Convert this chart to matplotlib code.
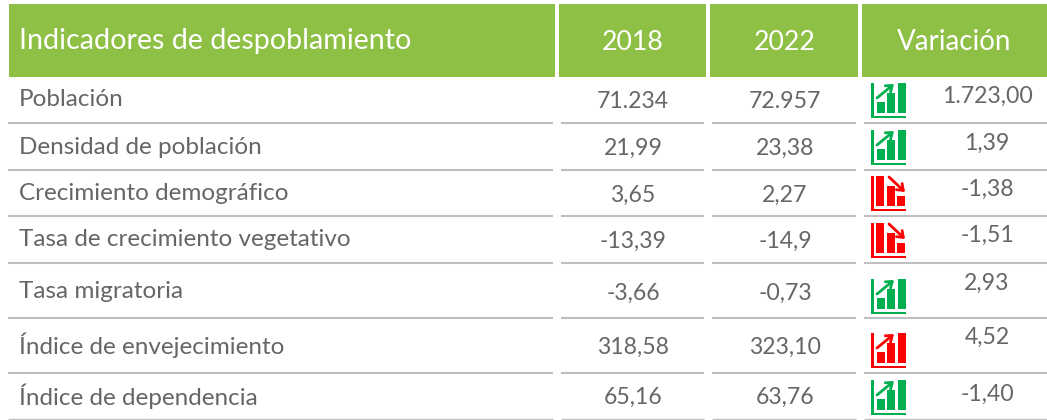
import matplotlib
matplotlib.use("Agg")
import matplotlib.pyplot as plt
from matplotlib.patches import Rectangle, FancyArrowPatch

title = "Indicadores de despoblamiento"
years = ["2018", "2022"]
variation_title = "Variación"
indicators = ["Población", "Densidad de población", "Crecimiento demográfico",
              "Tasa de crecimiento vegetativo", "Tasa migratoria",
              "Índice de envejecimiento", "Índice de dependencia"]
values_2018 = ["71.234", "21,99", "3,65", "-13,39", "-3,66", "318,58", "65,16"]
values_2022 = ["72.957", "23,38", "2,27", "-14,9", "-0,73", "323,10", "63,76"]
variation = ["1.723,00", "1,39", "-1,38", "-1,51", "2,93", "4,52", "-1,40"]
icon_dir = ["up", "up", "down", "down", "up", "up", "up"]
icon_col = ["g", "g", "r", "r", "g", "r", "g"]

GREEN = "#8FC046"; TXT = "#666666"; LINE = "#BFBFBF"
COLS = {"g": "#00B050", "r": "#FF0000"}
W, H = 1047, 420
plt.rcParams["font.family"] = ["Lato", "DejaVu Sans"]
fig = plt.figure(figsize=(W/100, H/100), dpi=100)
ax = fig.add_axes([0, 0, 1, 1]); ax.set_xlim(0, W); ax.set_ylim(H, 0); ax.axis("off")

hdr = [(9, 555), (559, 706), (710, 858), (862, 1047)]
for a, b in hdr:
    ax.add_patch(Rectangle((a, 4), b-a, 73, fc=GREEN, ec="none"))
ax.text(19, 41.5, title, color="white", fontsize=20.6, va="center", ha="left")
ax.text(633, 42, years[0], color="white", fontsize=19.2, va="center", ha="center")
ax.text(784.5, 42, years[1], color="white", fontsize=19.2, va="center", ha="center")
ax.text(954.5, 42, variation_title, color="white", fontsize=20, va="center", ha="center")

lines = [123, 170, 216, 263, 318, 373, 419]
for y in lines:
    lw = 1.0 if y == lines[-1] else 1.5
    for a, b in [(8, 553), (561, 704), (712, 856), (864, 1047)]:
        ax.plot([a, b], [y, y], color=LINE, lw=lw, solid_capstyle="butt")

label_y = [100, 147, 193, 240, 291, 345, 396]
val_y = [101, 148, 195, 241, 293, 347, 397]
var_y = [96, 143, 189, 235, 283, 337, 394]
icon_y = [100, 147, 193, 240, 296, 350, 397]

def icon(cy, kind, col):
    c = COLS[col]
    x0 = 871
    ax.add_patch(Rectangle((x0, cy-17), 2.5, 35, fc=c, ec="none"))
    ax.add_patch(Rectangle((x0, cy+15.5), 35, 2.5, fc=c, ec="none"))
    if kind == "up":
        hs = [11, 20, 30]; xs = [x0+6, x0+16, x0+27]
        st, en = (x0+6, cy-2), (x0+23, cy-16)
    else:
        hs = [30, 20, 10]; xs = [x0+5, x0+16, x0+26]
        st, en = (x0+18, cy-16), (x0+34, cy-1)
    for x, h in zip(xs, hs):
        ax.add_patch(Rectangle((x, cy+13-h), 8, h, fc=c, ec="none"))
    ax.add_patch(FancyArrowPatch(st, en, arrowstyle="->,head_length=4,head_width=3", color=c,
                                 lw=2.0, mutation_scale=1, shrinkA=0, shrinkB=0))

for i, name in enumerate(indicators):
    ax.text(19, label_y[i], name, color=TXT, fontsize=17.5, va="center", ha="left")
    ax.text(633, val_y[i], values_2018[i], color=TXT, fontsize=16.6, va="center", ha="center")
    ax.text(785, val_y[i], values_2022[i], color=TXT, fontsize=16.6, va="center", ha="center")
    ax.text(987, var_y[i], variation[i], color=TXT, fontsize=16.6, va="center", ha="center")
    icon(icon_y[i], icon_dir[i], icon_col[i])

fig.savefig("out.png", dpi=100)
